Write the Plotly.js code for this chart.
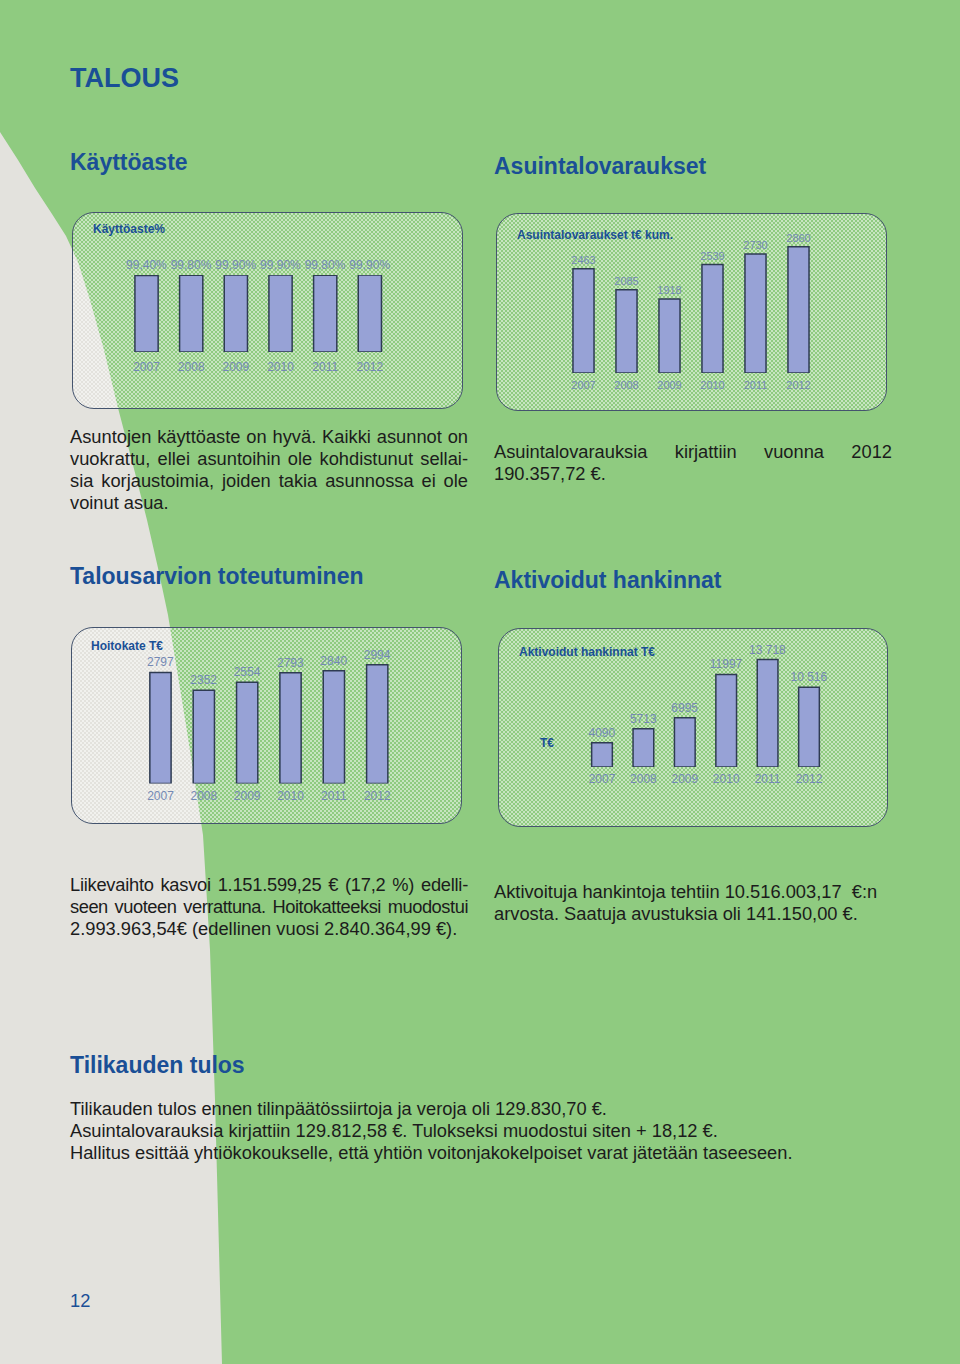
<!DOCTYPE html>
<html>
<head>
<meta charset="utf-8">
<script src="https://cdn.plot.ly/plotly-3.0.1.min.js"></script>
<style>
  html,body{margin:0;padding:0;}
  #page{position:relative;width:960px;height:1364px;background:#8FCB80;overflow:hidden;
        font-family:"Liberation Sans",Arial,Helvetica,sans-serif;color:#1c1c1c;}
  .abs{position:absolute;}
  .h1{font-size:27px;line-height:27px;font-weight:bold;color:#1A4F96;white-space:nowrap;}
  .h2{font-size:23px;line-height:23px;font-weight:bold;color:#1A4F96;white-space:nowrap;}
  .box{position:absolute;border:1.5px solid #44546E;border-radius:22px;box-sizing:border-box;
       background-image:repeating-conic-gradient(rgba(255,255,255,0.5) 0 25%, rgba(255,255,255,0) 0 50%);
       background-size:4px 4px;}
  .para{position:absolute;font-size:18.3px;line-height:22px;width:398px;}
  .para div{white-space:nowrap;}
  .j{text-align:justify;text-align-last:justify;}
  #chart{position:absolute;left:0;top:0;width:960px;height:1364px;}
</style>
</head>
<body>
<div id="page">
  <svg class="abs" style="left:0;top:0" width="960" height="1364">
    <polygon fill="#E3E2DD" points="0,132 18,160 35,188 52,214 66,236 78,262 90,300 104,350 118,408 133,465 147,520 158,568 168,615 186,725 203,835 210,950 215,1100 219,1250 222,1364 0,1364"/>
  </svg>

  <div class="abs h1" style="left:70px;top:65px;">TALOUS</div>
  <div class="abs h2" style="left:70px;top:150.5px;">Käyttöaste</div>
  <div class="abs h2" style="left:494px;top:154.5px;">Asuintalovaraukset</div>
  <div class="abs h2" style="left:70px;top:564.5px;">Talousarvion toteutuminen</div>
  <div class="abs h2" style="left:494px;top:568.5px;">Aktivoidut hankinnat</div>
  <div class="abs h2" style="left:70px;top:1053.5px;">Tilikauden tulos</div>

  <div class="box" style="left:72px;top:212px;width:391px;height:197px;"></div>
  <div class="box" style="left:496px;top:213px;width:391px;height:198px;"></div>
  <div class="box" style="left:71px;top:627px;width:391px;height:197px;"></div>
  <div class="box" style="left:498px;top:628px;width:390px;height:199px;"></div>

  <div class="para" style="left:70px;top:426px;">
    <div class="j">Asuntojen käyttöaste on hyvä. Kaikki asunnot on</div>
    <div class="j">vuokrattu, ellei asuntoihin ole kohdistunut sellai-</div>
    <div class="j">sia korjaustoimia, joiden takia asunnossa ei ole</div>
    <div>voinut asua.</div>
  </div>
  <div class="para" style="left:494px;top:441px;">
    <div class="j">Asuintalovarauksia kirjattiin vuonna 2012</div>
    <div>190.357,72 €.</div>
  </div>
  <div class="para" style="left:70px;top:874px;">
    <div class="j" style="letter-spacing:-0.25px;word-spacing:-1px;">Liikevaihto kasvoi 1.151.599,25 € (17,2 %) edelli-</div>
    <div class="j" style="letter-spacing:-0.45px;word-spacing:-2.5px;">seen vuoteen verrattuna. Hoitokatteeksi muodostui</div>
    <div>2.993.963,54€ (edellinen vuosi 2.840.364,99 €).</div>
  </div>
  <div class="para" style="left:494px;top:881px;width:430px;">
    <div>Aktivoituja hankintoja tehtiin 10.516.003,17 &nbsp;€:n</div>
    <div>arvosta. Saatuja avustuksia oli 141.150,00 €.</div>
  </div>
  <div class="para" style="left:70px;top:1098px;width:820px;">
    <div>Tilikauden tulos ennen tilinpäätössiirtoja ja veroja oli 129.830,70 €.</div>
    <div>Asuintalovarauksia kirjattiin 129.812,58 €. Tulokseksi muodostui siten + 18,12 €.</div>
    <div>Hallitus esittää yhtiökokoukselle, että yhtiön voitonjakokelpoiset varat jätetään taseeseen.</div>
  </div>
  <div class="para" style="left:70px;top:1290px;color:#1A4F96;">12</div>

  <div id="chart"></div>
</div>

<script>
// ---- data ----
const years = ["2007", "2008", "2009", "2010", "2011", "2012"];

const kayttoasteValues = [99.4, 99.8, 99.9, 99.9, 99.8, 99.9];
const kayttoasteLabels = ["99,40%", "99,80%", "99,90%", "99,90%", "99,80%", "99,90%"];

const varausValues = [2463, 2085, 1918, 2539, 2730, 2860];
const varausLabels = ["2463", "2085", "1918", "2539", "2730", "2860"];

const hoitokateValues = [2797, 2352, 2554, 2793, 2840, 2994];
const hoitokateLabels = ["2797", "2352", "2554", "2793", "2840", "2994"];

const hankinnatValues = [4090, 5713, 6995, 11997, 13718, 10516];
const hankinnatLabels = ["4090", "5713", "6995", "11997", "13 718", "10 516"];

const chartTitles = ["Käyttöaste%", "Asuintalovaraukset t€ kum.", "Hoitokate T€", "Aktivoidut hankinnat T€"];
const unitLabel = "T€";

// axis scales (value ranges)
const varausAxisMin = 580, varausAxisMax = 3000;
const hankinnatAxisMin = 1300, hankinnatAxisMax = 15000;

// ---- layout helpers (page pixel -> paper fraction) ----
const W = 960, H = 1364;
const fx = p => p / W;
const fy = p => 1 - p / H;

const barColor = "#97A2D6";
const barLine = {color: "#2E3B52", width: 1.5};
const labelColor = "#7489B5";
const titleColor = "#1A4F96";

function barTrace(vals, labels, xa, ya, fsize, width, base) {
  const t = {
    type: "bar", x: years, y: vals, text: labels,
    textposition: "outside", cliponaxis: false, constraintext: "none",
    textfont: {family: "Liberation Sans, Arial, sans-serif", size: fsize, color: labelColor},
    marker: {color: barColor, line: barLine},
    width: width, xaxis: xa, yaxis: ya, hoverinfo: "skip"
  };
  if (base !== undefined) t.base = base;
  return t;
}

const data = [
  barTrace(kayttoasteValues, kayttoasteLabels, "x", "y", 12, 0.52),
  barTrace(varausValues.map(v => v - varausAxisMin), varausLabels, "x2", "y2", 11, 0.49, varausAxisMin),
  barTrace(hoitokateValues, hoitokateLabels, "x3", "y3", 12, 0.49),
  barTrace(hankinnatValues.map(v => v - hankinnatAxisMin), hankinnatLabels, "x4", "y4", 12, 0.5, hankinnatAxisMin)
];

function xax(l, r, anchor, fsize, tl) {
  return {domain: [fx(l), fx(r)], anchor: anchor, type: "category",
    showgrid: false, zeroline: false, showline: false,
    ticks: "outside", ticklen: tl, tickcolor: "rgba(0,0,0,0)",
    tickfont: {family: "Liberation Sans, Arial, sans-serif", size: fsize, color: labelColor},
    fixedrange: true};
}
function yax(top, bottom, anchor, range) {
  return {domain: [fy(bottom), fy(top)], anchor: anchor, range: range, visible: false, fixedrange: true};
}

const titleFont = {family: "Liberation Sans, Arial, sans-serif", size: 12, color: titleColor, weight: "bold"};
function ann(text, px, py) {
  return {text: "<b>" + text + "</b>", xref: "paper", yref: "paper", x: fx(px), y: fy(py),
    xanchor: "left", yanchor: "middle", showarrow: false, borderpad: 0, font: titleFont};
}

const layout = {
  width: W, height: H,
  margin: {l: 0, r: 0, t: 0, b: 0},
  paper_bgcolor: "rgba(0,0,0,0)", plot_bgcolor: "rgba(0,0,0,0)",
  showlegend: false,
  xaxis: xax(124.2, 392.2, "y", 12, 4),
  yaxis: yax(275, 352, "x", [0, 100]),
  xaxis2: xax(562, 820, "y2", 11, 2),
  yaxis2: yax(239, 373, "x2", [varausAxisMin, varausAxisMax]),
  xaxis3: xax(138.8, 398.9, "y3", 12, 1),
  yaxis3: yax(656.5, 783.5, "x3", [0, 3200]),
  xaxis4: xax(581.3, 829.7, "y4", 12, 1),
  yaxis4: yax(648.4, 767, "x4", [hankinnatAxisMin, hankinnatAxisMax]),
  annotations: [
    ann(chartTitles[0], 92, 229),
    ann(chartTitles[1], 516, 235),
    ann(chartTitles[2], 90, 646),
    ann(chartTitles[3], 518, 652),
    ann(unitLabel, 539, 743)
  ]
};

Plotly.newPlot("chart", data, layout, {staticPlot: true, displayModeBar: false});
</script>
</body>
</html>
